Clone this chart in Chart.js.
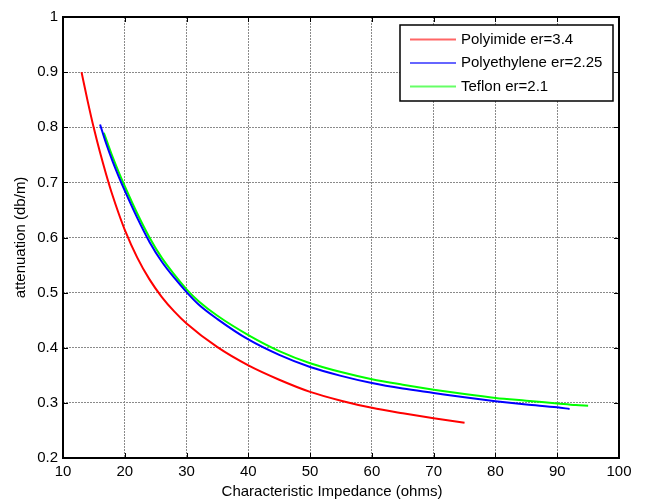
<!DOCTYPE html>
<html lang="en">
<head>
    <meta charset="UTF-8">
    <title>Attenuation vs Characteristic Impedance</title>
    <script src="https://cdn.jsdelivr.net/npm/chart.js@4.4.0/dist/chart.umd.min.js"></script>
    <style>
        html, body {
            margin: 0;
            padding: 0;
            background: #fff;
        }
        .wrap {
            width: 645px;
            height: 501px;
            position: relative;
        }
    </style>
</head>
<body>
    <div class="wrap">
        <canvas id="chart" width="645" height="501"></canvas>
    </div>

    <script>
        // data
        const seriesLabels = ['Polyimide er=3.4', 'Polyethylene er=2.25', 'Teflon er=2.1'];
        const seriesColors = ['#ff0000', '#0000ff', '#00ff00'];

        const polyimideZ = [13, 14, 15, 16, 17, 18, 19, 20, 22, 24, 26, 28, 30, 35, 40, 45, 50, 55, 60, 65, 70, 75];
        const polyimideAtt = [0.9, 0.847, 0.798, 0.754, 0.714, 0.677, 0.644, 0.614, 0.564, 0.524, 0.492, 0.466, 0.444, 0.401, 0.368, 0.342, 0.32, 0.304, 0.291, 0.281, 0.272, 0.264];

        const polyethyleneZ = [16, 17, 18, 19, 20, 22, 24, 26, 28, 30, 32, 35, 40, 45, 50, 55, 60, 65, 70, 75, 80, 85, 90, 92];
        const polyethyleneAtt = [0.805, 0.77, 0.739, 0.711, 0.685, 0.636, 0.592, 0.556, 0.527, 0.501, 0.478, 0.452, 0.415, 0.387, 0.365, 0.349, 0.336, 0.326, 0.318, 0.31, 0.303, 0.297, 0.292, 0.289];

        const teflonZ = [16.6, 17, 18, 19, 20, 22, 24, 26, 28, 30, 32, 35, 40, 45, 50, 55, 60, 65, 70, 75, 80, 85, 90, 93, 95];
        const teflonAtt = [0.79, 0.778, 0.747, 0.719, 0.693, 0.644, 0.6, 0.563, 0.533, 0.506, 0.484, 0.458, 0.423, 0.394, 0.372, 0.356, 0.343, 0.333, 0.324, 0.316, 0.309, 0.304, 0.299, 0.296, 0.295];

        const xTicks = [10, 20, 30, 40, 50, 60, 70, 80, 90, 100];
        const yTicks = [0.2, 0.3, 0.4, 0.5, 0.6, 0.7, 0.8, 0.9, 1];

        const FONT = 'Arial, "Liberation Sans", sans-serif';

        function toPoints(xs, ys) {
            return xs.map((x, i) => ({ x: x, y: ys[i] }));
        }

        const allSeries = [
            toPoints(polyimideZ, polyimideAtt),
            toPoints(polyethyleneZ, polyethyleneAtt),
            toPoints(teflonZ, teflonAtt)
        ];

        // box around the plot, inward tick marks, x title and legend (MATLAB look)
        const matlabBox = {
            id: 'matlabBox',
            afterDraw(chart) {
                const ctx = chart.ctx;
                const a = chart.chartArea;
                const xs = chart.scales.x;
                const ys = chart.scales.y;
                ctx.save();
                ctx.strokeStyle = '#000';
                ctx.lineWidth = 2;
                ctx.strokeRect(a.left, a.top, a.right - a.left, a.bottom - a.top);

                ctx.lineWidth = 1;
                ctx.beginPath();
                xTicks.forEach(v => {
                    const px = Math.round(xs.getPixelForValue(v)) + 0.5;
                    ctx.moveTo(px, a.bottom); ctx.lineTo(px, a.bottom - 5);
                    ctx.moveTo(px, a.top); ctx.lineTo(px, a.top + 5);
                });
                yTicks.forEach(v => {
                    const py = Math.round(ys.getPixelForValue(v)) + 0.5;
                    ctx.moveTo(a.left, py); ctx.lineTo(a.left + 5, py);
                    ctx.moveTo(a.right, py); ctx.lineTo(a.right - 5, py);
                });
                ctx.stroke();

                // x axis title, sits a little left of centre in the original
                ctx.fillStyle = '#000';
                ctx.font = '15px ' + FONT;
                ctx.textAlign = 'center';
                ctx.textBaseline = 'middle';
                ctx.fillText('Characteristic Impedance (ohms)', (a.left + a.right) / 2 - 9, 492);

                // legend
                const lx = 400, ly = 25, lw = 213, lh = 76;
                ctx.fillStyle = '#fff';
                ctx.fillRect(lx, ly, lw, lh);
                ctx.lineWidth = 1.5;
                ctx.strokeStyle = '#000';
                ctx.strokeRect(lx, ly, lw, lh);
                ctx.font = '15px ' + FONT;
                ctx.textBaseline = 'middle';
                ctx.textAlign = 'left';
                seriesLabels.forEach((lab, i) => {
                    const y = ly + 14.5 + i * 23.5;
                    ctx.strokeStyle = seriesColors[i];
                    ctx.globalAlpha = 0.6;
                    ctx.lineWidth = 2;
                    ctx.beginPath();
                    ctx.moveTo(lx + 10, y);
                    ctx.lineTo(lx + 56, y);
                    ctx.stroke();
                    ctx.globalAlpha = 1;
                    ctx.fillStyle = '#000';
                    ctx.fillText(lab, lx + 61, y);
                });
                ctx.restore();
            }
        };

        new Chart(document.getElementById('chart'), {
            type: 'scatter',
            data: {
                datasets: allSeries.map((pts, i) => ({
                    label: seriesLabels[i],
                    data: pts,
                    showLine: true,
                    borderColor: seriesColors[i],
                    backgroundColor: seriesColors[i],
                    borderWidth: 2,
                    pointRadius: 0,
                    cubicInterpolationMode: 'monotone'
                }))
            },
            options: {
                responsive: false,
                animation: false,
                layout: { padding: { left: 0, top: 17, right: 26, bottom: 0 } },
                plugins: {
                    legend: { display: false },
                    tooltip: { enabled: false }
                },
                scales: {
                    x: {
                        type: 'linear',
                        min: 10,
                        max: 100,
                        afterFit: s => { s.height = 43; },
                        afterBuildTicks: s => { s.ticks = xTicks.map(v => ({ value: v })); },
                        ticks: {
                            padding: 5,
                            color: '#000',
                            font: { family: FONT, size: 15 },
                            maxRotation: 0
                        },
                        grid: { color: '#8a8a8a', lineWidth: 1, drawTicks: false },
                        border: { display: false, dash: [2, 1] }
                    },
                    y: {
                        type: 'linear',
                        min: 0.2,
                        max: 1,
                        afterFit: s => { s.width = 63; },
                        afterBuildTicks: s => { s.ticks = yTicks.map(v => ({ value: v })); },
                        ticks: {
                            padding: 5,
                            color: '#000',
                            font: { family: FONT, size: 15 },
                            callback: v => String(+v.toFixed(1))
                        },
                        grid: { color: '#8a8a8a', lineWidth: 1, drawTicks: false },
                        border: { display: false, dash: [2, 1] },
                        title: {
                            display: true,
                            text: 'attenuation (db/m)',
                            color: '#000',
                            font: { family: FONT, size: 15 },
                            padding: { top: 12, bottom: 0 }
                        }
                    }
                }
            },
            plugins: [matlabBox]
        });
    </script>
</body>
</html>
